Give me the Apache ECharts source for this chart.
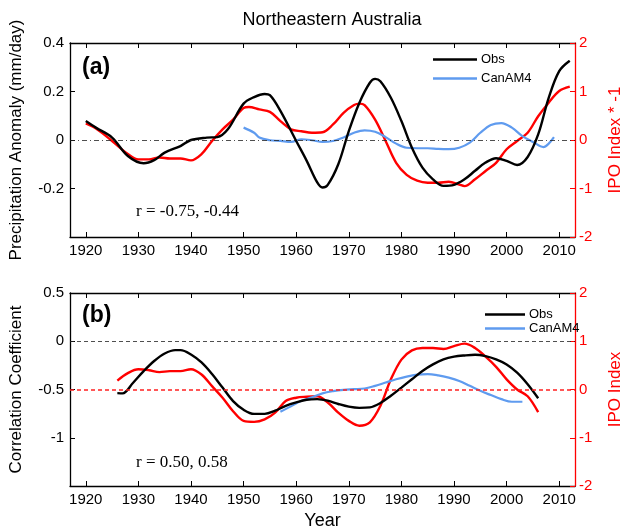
<!DOCTYPE html>
<html>
<head>
<meta charset="utf-8">
<script src="https://cdn.jsdelivr.net/npm/echarts@6/dist/echarts.min.js"></script>
<style>
  html, body { margin: 0; padding: 0; background: #fff; }
  #chart { width: 632px; height: 531px; }
</style>
</head>
<body>
<div id="chart"></div>
<script>
// year ticks shared by both panels
const yearTicks = [1920, 1930, 1940, 1950, 1960, 1970, 1980, 1990, 2000, 2010]

// (a) precipitation anomaly (mm/day), [year, value]
const obsPrecip = [[1920, 0.078], [1922, 0.05], [1925, 0.01], [1928, -0.066], [1931, -0.096], [1933, -0.083],
    [1935, -0.052], [1938, -0.025], [1940, 0], [1943, 0.01], [1945, 0.012], [1947, 0.044], [1950, 0.15],
    [1952, 0.177], [1954, 0.19], [1955, 0.185], [1957, 0.12], [1960, -0.004], [1962, -0.086], [1964, -0.175],
    [1965, -0.196], [1966, -0.185], [1968, -0.1], [1970, 0.037], [1972, 0.153], [1974, 0.236], [1975, 0.252],
    [1976, 0.242], [1978, 0.174], [1980, 0.078], [1982, -0.032], [1984, -0.114], [1986, -0.162], [1988, -0.189],
    [1990, -0.185], [1992, -0.162], [1994, -0.127], [1996, -0.093], [1998, -0.075], [2000, -0.086],
    [2002, -0.103], [2004, -0.07], [2006, 0.023], [2008, 0.174], [2010, 0.284], [2012, 0.327]]
const canPrecip = [[1950, 0.051], [1952, 0.03], [1953, 0.01], [1955, -0.001], [1957, -0.004], [1959, -0.008],
    [1961, 0.003], [1963, -0.001], [1965, -0.008], [1967, -0.004], [1969, 0.01], [1971, 0.03], [1973, 0.04],
    [1975, 0.034], [1977, 0.012], [1979, -0.015], [1981, -0.032], [1983, -0.034], [1985, -0.034], [1987, -0.037],
    [1989, -0.038], [1991, -0.032], [1993, -0.011], [1995, 0.03], [1997, 0.062], [1999, 0.07], [2001, 0.051],
    [2003, 0.016], [2005, -0.008], [2007, -0.029], [2008, -0.015], [2009, 0.012]]
// IPO index * -1
const ipoNeg = [[1920, 0.34], [1922, 0.23], [1925, -0.02], [1928, -0.29], [1930, -0.4], [1932, -0.4], [1934, -0.36],
    [1936, -0.38], [1938, -0.38], [1940, -0.42], [1942, -0.29], [1944, -0.02], [1946, 0.22], [1948, 0.42],
    [1950, 0.66], [1951, 0.68], [1953, 0.63], [1955, 0.58], [1957, 0.39], [1959, 0.22], [1961, 0.18], [1963, 0.15],
    [1965, 0.16], [1967, 0.32], [1969, 0.56], [1971, 0.72], [1972, 0.75], [1973, 0.72], [1975, 0.42], [1977, -0.02],
    [1979, -0.47], [1981, -0.72], [1983, -0.84], [1985, -0.88], [1987, -0.88], [1989, -0.86], [1991, -0.92],
    [1992, -0.95], [1994, -0.81], [1996, -0.64], [1998, -0.47], [2000, -0.19], [2002, -0.02], [2004, 0.15],
    [2006, 0.49], [2008, 0.77], [2010, 1.01], [2012, 1.1]]

// (b) running correlation coefficient
const obsCorr = [[1926, -0.538], [1927, -0.54], [1929, -0.43], [1931, -0.31], [1933, -0.205], [1935, -0.127],
    [1937, -0.092], [1938, -0.092], [1940, -0.137], [1942, -0.22], [1944, -0.34], [1946, -0.48], [1948, -0.62],
    [1950, -0.71], [1952, -0.753], [1954, -0.753], [1956, -0.72], [1958, -0.67], [1960, -0.634], [1962, -0.606],
    [1964, -0.6], [1966, -0.616], [1968, -0.65], [1970, -0.678], [1972, -0.69], [1974, -0.685], [1976, -0.64],
    [1978, -0.565], [1980, -0.48], [1982, -0.394], [1984, -0.308], [1986, -0.24], [1988, -0.188], [1990, -0.16],
    [1992, -0.147], [1994, -0.14], [1996, -0.154], [1998, -0.188], [2000, -0.24], [2002, -0.325], [2004, -0.445],
    [2006, -0.59]]
const canCorr = [[1957, -0.73], [1959, -0.675], [1961, -0.616], [1963, -0.582], [1965, -0.54], [1967, -0.517],
    [1969, -0.503], [1971, -0.497], [1973, -0.49], [1975, -0.462], [1977, -0.428], [1979, -0.394], [1981, -0.366],
    [1983, -0.346], [1985, -0.34], [1987, -0.353], [1989, -0.377], [1991, -0.411], [1993, -0.462], [1995, -0.514],
    [1997, -0.558], [1999, -0.6], [2001, -0.627], [2003, -0.627]]
const ipoIndex = [[1926, 0.185], [1928, 0.34], [1930, 0.42], [1932, 0.4], [1934, 0.36], [1936, 0.38], [1938, 0.38],
    [1940, 0.42], [1942, 0.31], [1944, 0.07], [1946, -0.17], [1948, -0.45], [1950, -0.65], [1952, -0.67],
    [1954, -0.62], [1956, -0.48], [1958, -0.24], [1960, -0.17], [1962, -0.15], [1964, -0.14], [1966, -0.27],
    [1968, -0.48], [1970, -0.65], [1972, -0.75], [1974, -0.68], [1976, -0.34], [1978, 0.21], [1980, 0.62],
    [1982, 0.81], [1984, 0.86], [1986, 0.86], [1988, 0.84], [1990, 0.9], [1992, 0.95], [1994, 0.86], [1996, 0.68],
    [1998, 0.47], [2000, 0.21], [2002, 0], [2004, -0.14], [2006, -0.47]]

const FONT = 'Liberation Sans'
const BLUE = '#5f9bef'
const RED = '#ff0000'

const chart = echarts.init(document.getElementById('chart'), null, { renderer: 'canvas' })

function xAxes(gridIndex, withName) {
    const common = {
        type: 'value',
        gridIndex: gridIndex,
        min: 1917,
        max: 2013,
        splitLine: { show: false },
        axisLine: { show: true, onZero: false, lineStyle: { color: '#000', width: 1.3 } },
        axisTick: { show: true, inside: true, length: 5, customValues: yearTicks, lineStyle: { color: '#000' } }
    }
    return [
        Object.assign({}, common, {
            position: 'bottom',
            name: withName ? 'Year' : '',
            nameLocation: 'middle',
            nameGap: 26,
            nameTextStyle: { fontFamily: FONT, fontSize: 18, color: '#000' },
            axisLabel: {
                customValues: yearTicks, margin: 6, fontFamily: FONT, fontSize: 15, color: '#000',
                formatter: function(v) { return String(v) }
            }
        }),
        Object.assign({}, common, {
            position: 'top',
            axisLabel: { show: false }
        })
    ]
}

function yAxes(gridIndex, min, max, interval, leftName, rightName) {
    return [
        {
            type: 'value',
            gridIndex: gridIndex,
            position: 'left',
            min: min,
            max: max,
            interval: interval,
            name: leftName,
            nameLocation: 'middle',
            nameGap: 45,
            nameTextStyle: { fontFamily: FONT, fontSize: 17, color: '#000' },
            splitLine: { show: false },
            axisLine: { show: true, onZero: false, lineStyle: { color: '#000', width: 1.3 } },
            axisTick: { show: true, inside: true, length: 5, lineStyle: { color: '#000' } },
            axisLabel: {
                margin: 6, fontFamily: FONT, fontSize: 15, color: '#000',
                formatter: function(v) { return v === min ? '' : String(v) }
            }
        },
        {
            type: 'value',
            gridIndex: gridIndex,
            position: 'right',
            min: -2,
            max: 2,
            interval: 1,
            name: rightName,
            nameLocation: 'middle',
            nameGap: 32,
            nameTextStyle: { fontFamily: FONT, fontSize: 17, color: RED },
            splitLine: { show: false },
            axisLine: { show: true, onZero: false, lineStyle: { color: RED, width: 1.3 } },
            axisTick: { show: true, inside: true, length: 5, lineStyle: { color: RED } },
            axisLabel: { margin: 4, fontFamily: FONT, fontSize: 15, color: RED }
        }
    ]
}

function line(name, data, color, width, xi, yi, extra) {
    return Object.assign({
        name: name,
        type: 'line',
        xAxisIndex: xi,
        yAxisIndex: yi,
        data: data,
        smooth: 0.35,
        showSymbol: false,
        symbol: 'none',
        lineStyle: { color: color, width: width },
        itemStyle: { color: color },
        z: 3
    }, extra || {})
}

function refLine(value, color, type, width) {
    return {
        silent: true,
        symbol: 'none',
        label: { show: false },
        emphasis: { disabled: true },
        lineStyle: { color: color, width: width, type: type, opacity: 1 },
        data: [{ yAxis: value, lineStyle: { color: color } }]
    }
}

chart.setOption({
    animation: false,
    title: {
        text: 'Northeastern Australia',
        left: 327,
        textAlign: 'center',
        top: 6,
        textStyle: { fontFamily: FONT, fontSize: 18, fontWeight: 'normal', color: '#000' }
    },
    grid: [
        { left: 69, top: 43, width: 515, height: 194 },
        { left: 69, top: 293, width: 515, height: 194 }
    ],
    legend: [
        {
            data: ['Obs', 'CanAM4'],
            orient: 'vertical',
            left: 428,
            top: 48,
            itemWidth: 44,
            itemHeight: 2.5,
            itemGap: 6,
            icon: 'rect',
            textStyle: { fontFamily: FONT, fontSize: 13, color: '#000', padding: [0, 0, 0, -1] }
        },
        {
            data: ['Obs', 'CanAM4'],
            orient: 'vertical',
            left: 480,
            top: 303,
            itemWidth: 40,
            itemHeight: 2.5,
            itemGap: 1,
            icon: 'rect',
            textStyle: { fontFamily: FONT, fontSize: 13, color: '#000', padding: [0, 0, 0, -1] }
        }
    ],
    xAxis: xAxes(0, false).concat(xAxes(1, true)),
    yAxis: yAxes(0, -0.4, 0.4, 0.2, 'Precipitation Anomaly (mm/day)', 'IPO Index * -1')
        .concat(yAxes(1, -1.5, 0.5, 0.5, 'Correlation Coefficient', 'IPO Index')),
    graphic: [
        { type: 'text', left: 82, top: 56, style: { text: '(a)', font: 'bold 23px "Liberation Sans"', fill: '#000' } },
        { type: 'text', left: 82, top: 304, style: { text: '(b)', font: 'bold 23px "Liberation Sans"', fill: '#000' } },
        { type: 'text', left: 136, top: 203, style: { text: 'r = -0.75, -0.44', font: '17px "Liberation Serif"', fill: '#000' } },
        { type: 'text', left: 136, top: 454, style: { text: 'r = 0.50, 0.58', font: '17px "Liberation Serif"', fill: '#000' } }
    ],
    series: [
        line('IPO*-1', ipoNeg, RED, 2.4, 0, 1),
        line('CanAM4', canPrecip, BLUE, 2.2, 0, 0),
        line('Obs', obsPrecip, '#000', 2.4, 0, 0, { z: 4, markLine: refLine(0, '#222', [5, 3, 1, 3], 0.8) }),
        line('IPO', ipoIndex, RED, 2.4, 2, 3, { markLine: refLine(0, '#ff2020', [4, 3], 1.5) }),
        line('CanAM4', canCorr, BLUE, 2.2, 2, 2),
        line('Obs', obsCorr, '#000', 2.4, 2, 2, { z: 4, markLine: refLine(0, '#222', [4, 3], 0.8) })
    ]
})
</script>
</body>
</html>
